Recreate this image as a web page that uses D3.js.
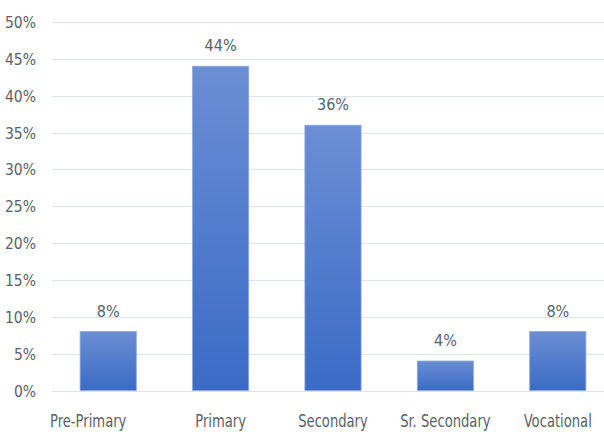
<!DOCTYPE html>
<html><head><meta charset="utf-8">
<script src="https://cdn.jsdelivr.net/npm/d3@7"></script>
<style>
body{margin:0;background:#fff;}
svg{display:block;}
text{font-family:"DejaVu Sans Condensed","Liberation Sans",sans-serif;fill:#5a5f6b;}
</style></head>
<body><svg id="c" width="604" height="432"></svg>
<script>
const categories = ["Pre-Primary","Primary","Secondary","Sr. Secondary","Vocational"];
const values = [8,44,36,4,8];
const yTicks = [0,5,10,15,20,25,30,35,40,45,50];
const labelShift = [-20,0,0,0,0];

const svg = d3.select("#c");
const W = 604, H = 432;
const x = d3.scaleBand().domain(categories).range([52,614]).paddingInner(0.5).paddingOuter(0.25);
const y = d3.scaleLinear().domain([0,50]).range([390.5,22]);

const defs = svg.append("defs");
const g = defs.append("linearGradient").attr("id","bg").attr("x1",0).attr("y1",0).attr("x2",0).attr("y2",1);
g.append("stop").attr("offset","0%").attr("stop-color","#6b8ed4");
g.append("stop").attr("offset","100%").attr("stop-color","#3a6bc6");

// gridlines
svg.append("g").selectAll("line").data(yTicks).join("line")
  .attr("x1",52).attr("x2",W)
  .attr("y1",d=>Math.round(y(d))+0.5).attr("y2",d=>Math.round(y(d))+0.5)
  .attr("stroke","#dfe3ea").attr("stroke-width",1);

// y axis labels
const yAxis = d3.axisLeft(y).tickValues(yTicks).tickFormat(d=>d+"%").tickSize(0).tickPadding(0);
const ya = svg.append("g").attr("transform","translate(36,0)").call(yAxis);
ya.select(".domain").remove();
ya.selectAll("text").attr("font-size","15.5px").style("font-family",null).attr("fill","#5a5f6b").attr("dy","0.36em");

// bars
svg.append("g").selectAll("rect").data(values).join("rect")
  .attr("x",(d,i)=>x(categories[i]))
  .attr("width",x.bandwidth())
  .attr("y",d=>y(d))
  .attr("height",d=>y(0)-y(d))
  .attr("fill","url(#bg)")
  .attr("stroke","#8fa9dd").attr("stroke-width",0.8);

// data labels
svg.append("g").selectAll("text").data(values).join("text")
  .attr("x",(d,i)=>x(categories[i])+x.bandwidth()/2)
  .attr("y",d=>y(d)-15)
  .attr("text-anchor","middle")
  .attr("font-size","16px")
  .text(d=>d+"%");

// x axis labels
const xAxis = d3.axisBottom(x).tickSize(0).tickPadding(0);
const xa = svg.append("g").attr("transform","translate(0,427)").call(xAxis);
xa.select(".domain").remove();
xa.selectAll("text").attr("font-size","17px").style("font-family",null).attr("fill","#5a5f6b").attr("dy","0")
  .attr("transform",(d,i)=>`translate(${labelShift[i]},0) scale(0.86,1)`);
</script></body></html>
